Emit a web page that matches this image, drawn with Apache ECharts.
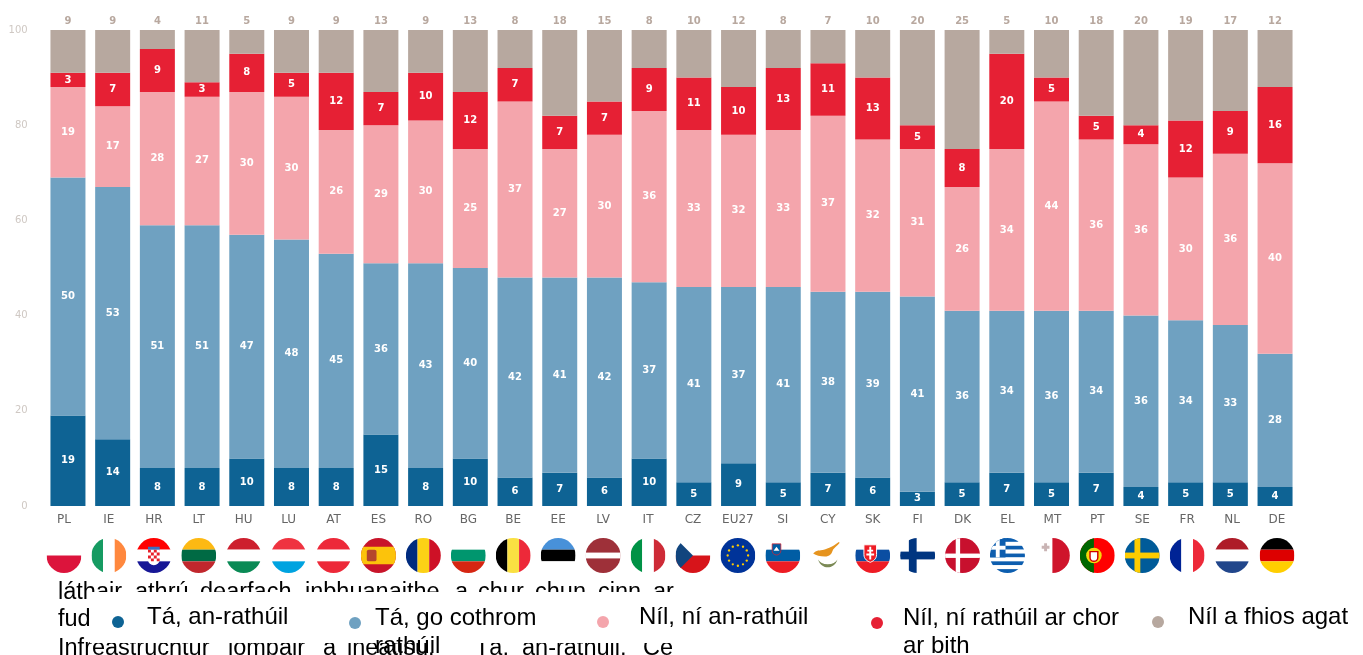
<!DOCTYPE html>
<html><head><meta charset="utf-8">
<style>html,body{margin:0;padding:0;background:#fff}#c{width:1363px;height:655px}</style>
<script src="https://cdn.jsdelivr.net/npm/echarts@6/dist/echarts.min.js"></script>
</head><body><div id="c"></div>
<script>
const categories = ['PL','IE','HR','LT','HU','LU','AT','ES','RO','BG','BE','EE','LV','IT','CZ','EU27','SI','CY','SK','FI','DK','EL','MT','PT','SE','FR','NL','DE'];
const veryUseful  = [19,14,8,8,10,8,8,15,8,10,6,7,6,10,5,9,5,7,6,3,5,7,5,7,4,5,5,4];
const fairlyUseful= [50,53,51,51,47,48,45,36,43,40,42,41,42,37,41,37,41,38,39,41,36,34,36,34,36,34,33,28];
const notVery     = [19,17,28,27,30,30,26,29,30,25,37,27,30,36,33,32,33,37,32,31,26,34,44,36,36,30,36,40];
const notAtAll    = [3,7,9,3,8,5,12,7,10,12,7,7,7,9,11,10,13,11,13,5,8,20,5,5,4,12,9,16];
const dontKnow    = [9,9,4,11,5,9,9,13,9,13,8,18,15,8,10,12,8,7,10,20,25,5,10,18,20,19,17,12];
const seriesNames = ['Tá, an-rathúil','Tá, go cothrom rathúil','Níl, ní an-rathúil','Níl, ní rathúil ar chor ar bith','Níl a fhios agat'];
const yTicks = [0,20,40,60,80,100];
const colors = ['#0e6394','#6fa1c1','#f4a5ac','#e62034','#b7a89f'];

// Flags, each drawn in a 36x36 box and clipped to a circle
const h3 = (a,b,c)=>`<rect width="36" height="12" fill="${a}"/><rect y="12" width="36" height="12" fill="${b}"/><rect y="24" width="36" height="12" fill="${c}"/>`;
const v3 = (a,b,c)=>`<rect width="12" height="36" fill="${a}"/><rect x="12" width="12" height="36" fill="${b}"/><rect x="24" width="12" height="36" fill="${c}"/>`;
const starRing = (()=>{let s='';for(let i=0;i<12;i++){const t=i*Math.PI/6;s+=`<circle cx="${18+10.5*Math.cos(t)}" cy="${18+10.5*Math.sin(t)}" r="1.2" fill="#ffcc00"/>`;}return s;})();
let greek='';for(let i=0;i<9;i++){greek+=`<rect y="${i*4}" width="36" height="4" fill="${i%2?'#fff':'#0d5eaf'}"/>`;}
const flags = {
 PL:'<rect width="36" height="18" fill="#fff"/><rect y="18" width="36" height="18" fill="#dc143c"/>',
 IE:v3('#169b62','#fff','#ff883e'),
 HR:h3('#ff0000','#fff','#171796')+'<rect x="12" y="9" width="12" height="4" fill="#3a6fc0"/><path d="M12 12h12v10a6 6 0 0 1-12 0z" fill="#fff"/><path d="M12 12h3v3h-3zM18 12h3v3h-3zM15 15h3v3h-3zM21 15h3v3h-3zM12 18h3v3h-3zM18 18h3v3h-3zM15 21h3v3h-3zM21 21h3v3h-3z" fill="#e8202a"/>',
 LT:h3('#fdb913','#006a44','#c1272d'),
 HU:h3('#cd1f2e','#fff','#0a8a55'),
 LU:h3('#ef3340','#fff','#00a3e0'),
 AT:h3('#ed2939','#fff','#ed2939'),
 ES:'<rect width="36" height="36" fill="#c8142a"/><rect y="9" width="36" height="18" fill="#fcc30b"/><rect x="6" y="12" width="10" height="12" rx="2" fill="#b5462c"/>',
 RO:v3('#002b7f','#fcd116','#ce1126'),
 BG:h3('#fff','#00966e','#d62612'),
 BE:v3('#000','#fae042','#ed2939'),
 EE:h3('#4891d9','#000','#fff'),
 LV:'<rect width="36" height="36" fill="#9e3039"/><rect y="15" width="36" height="6" fill="#fff"/>',
 IT:v3('#009246','#fff','#ce2b37'),
 CZ:'<rect width="36" height="18" fill="#fff"/><rect y="18" width="36" height="18" fill="#d7141a"/><path d="M0 0L18 18L0 36z" fill="#11457e"/>',
 EU27:'<rect width="36" height="36" fill="#003399"/>'+starRing,
 SI:h3('#fff','#005da4','#ed1c24')+'<path d="M7 6h9v7a4.5 4.5 0 0 1-9 0z" fill="#005da4" stroke="#ed1c24" stroke-width=".7"/><path d="M8.5 13l3-4 3 4z" fill="#fff"/>',
 CY:'<rect width="36" height="36" fill="#fff"/><path d="M3 16c3-4 7-3 11-4s11-4 18-10c-2 5-8 8-9 11s-3 6-8 6-9-1-12-3z" fill="#e6941f"/><path d="M8 22c2 6 6 8 10 8s8-2 10-8c-2 3-5 5-10 5s-8-2-10-5z" fill="#7b8a56"/>',
 SK:h3('#fff','#0b4ea2','#ee1c25')+'<path d="M9 7h13v10c0 5-4 7-6.5 8C13 24 9 22 9 17z" fill="#ee1c25" stroke="#fff" stroke-width="1"/><path d="M14.5 9h2v3h2v2h-2v2h3v2h-3v4h-2v-4h-3v-2h3v-2h-2v-2h2z" fill="#fff"/>',
 FI:'<rect width="36" height="36" fill="#fff"/><rect x="9" width="8" height="36" fill="#003580"/><rect y="14" width="36" height="8" fill="#003580"/>',
 DK:'<rect width="36" height="36" fill="#c8102e"/><rect x="11" width="4.5" height="36" fill="#fff"/><rect y="16" width="36" height="4.5" fill="#fff"/>',
 EL:greek+'<rect width="16" height="20" fill="#0d5eaf"/><rect x="6" width="4" height="20" fill="#fff"/><rect y="8" width="16" height="4" fill="#fff"/>',
 MT:'<rect width="36" height="36" fill="#fff"/><rect x="18" width="18" height="36" fill="#cf142b"/><path d="M7 8h2.5V5.500h3V8H15v3h-2.500v2.500h-3V11H7z" fill="#c9b4b4"/>',
 PT:'<rect width="36" height="36" fill="#ff0000"/><rect width="14.500" height="36" fill="#006600"/><circle cx="14.500" cy="18" r="8" fill="#f5d90a"/><path d="M10.500 14h8v6a4 4 0 0 1-8 0z" fill="#fff" stroke="#d10000" stroke-width="1.500"/>',
 SE:'<rect width="36" height="36" fill="#005b99"/><rect x="10" width="6" height="36" fill="#fecc00"/><rect y="15" width="36" height="6" fill="#fecc00"/>',
 FR:v3('#002395','#fff','#ed2939'),
 NL:h3('#ae1c28','#fff','#21468b'),
 DE:h3('#000','#dd0000','#ffce00')
};
const flagImage = code => 'data:image/svg+xml;charset=utf-8,' + encodeURIComponent(
 `<svg xmlns="http://www.w3.org/2000/svg" width="70" height="70" viewBox="0 0 36 36"><defs><clipPath id="k"><circle cx="18" cy="18" r="18"/></clipPath></defs><g clip-path="url(#k)">${flags[code]}</g></svg>`);
const flagRich = {};
categories.forEach(c => { flagRich[c] = {width:35, height:35, backgroundColor:{image:flagImage(c)}}; });

// Body text of the page showing behind the legend box
const bodyLine1 = [['láthair',58],['athrú',135],['dearfach',200],['inbhuanaithe',305],['a',455],['chur',478],['chun',535],['cinn',598],['ar',653]];
const bodyLine2 = [['fud',58]];
const bodyLine3 = [['Infreastruchtúr',58],['iompair',228],['a',323],['ineatisu.',347],['Tá,',475],['an-rathúil,',522],['Ce',643]];
const word = (w,y)=>({type:'text',z:1,style:{text:w[0],x:w[1],y:y-8,fill:'#000',font:'23.5px "Liberation Sans"',verticalAlign:'middle'}});

const valueLabel = {show:true,position:'inside',color:'#fff',fontFamily:'DejaVu Sans',fontSize:10,fontWeight:'bold'};
const mk = (i,data,label)=>({name:seriesNames[i],type:'bar',stack:'t',xAxisIndex:0,yAxisIndex:0,barWidth:35,data:data,
  itemStyle:{color:colors[i]},label:label,emphasis:{disabled:true}});

const rt = {color:'#000',fontFamily:'Liberation Sans',fontSize:24};
const legendSpec = [
 {left:112,top:605,text:'{a|Tá, an-rathúil}',a:[0,0,10,18],alh:38},
 {left:349,top:588,text:'{a|Tá, go cothrom}\n{b|rathúil}',a:[18,0,0,9],alh:46,b:[0,0,0,9]},
 {left:597,top:605,text:'{a|Níl, ní an-rathúil}',a:[0,0,10,25],alh:38},
 {left:871,top:588,text:'{a|Níl, ní rathúil ar chor}\n{b|ar bith}',a:[18,0,0,15],alh:46,b:[0,0,0,15]},
 {left:1152,top:605,text:'{a|Níl a fhios agat}',a:[0,0,10,19],alh:38}
];

const option = {
 animation:false,
 grid:[{left:45.6,width:1251.8,top:30,height:476},{left:41.5,width:1258,top:506,height:30}],
 xAxis:[
  {type:'category',gridIndex:0,data:categories,axisLine:{show:false},axisTick:{show:false},axisLabel:{show:false}},
  {type:'category',gridIndex:1,position:'top',data:categories,axisLine:{show:false},axisTick:{show:false},
   axisLabel:{inside:true,interval:0,margin:8,color:'#666',fontFamily:'DejaVu Sans',fontSize:12}},
  {type:'category',gridIndex:1,position:'bottom',data:categories,axisLine:{show:false},axisTick:{show:false},
   axisLabel:{interval:0,margin:2,formatter:v=>`{${v}|}`,rich:flagRich}}
 ],
 yAxis:[
  {type:'value',gridIndex:0,min:0,max:100,interval:20,splitLine:{show:false},axisLine:{show:false},axisTick:{show:false},
   axisLabel:{margin:18,color:'#cfc8c3',fontFamily:'DejaVu Sans',fontSize:10,formatter:v=>yTicks.includes(v)?String(v):''}},
  {type:'value',gridIndex:1,show:false}
 ],
 legend:legendSpec.map((l,i)=>({data:[seriesNames[i]],left:l.left,top:l.top,padding:0,itemWidth:12,itemHeight:12,icon:'circle',
   selectedMode:false,z:5,formatter:()=>l.text,
   textStyle:{rich:{a:{...rt,lineHeight:l.alh,padding:l.a},b:{...rt,lineHeight:28,padding:l.b||0}}}})),
 graphic:{elements:[
   ...bodyLine1.map(w=>word(w,600.5)),
   ...bodyLine2.map(w=>word(w,628),),
   ...bodyLine3.map(w=>word(w,656.5)),
   {type:'rect',z:2,shape:{x:90,y:592,width:600,height:51},style:{fill:'#fff'}}
 ]},
 series:[
  mk(0,veryUseful,valueLabel),
  mk(1,fairlyUseful,valueLabel),
  mk(2,notVery,valueLabel),
  mk(3,notAtAll,valueLabel),
  mk(4,dontKnow,{show:true,position:'top',distance:4,color:'#b8a89f',fontFamily:'DejaVu Sans',fontSize:10,fontWeight:'bold'})
 ]
};
const chart = echarts.init(document.getElementById('c'),null,{renderer:'canvas'});
chart.setOption(option);
</script></body></html>
